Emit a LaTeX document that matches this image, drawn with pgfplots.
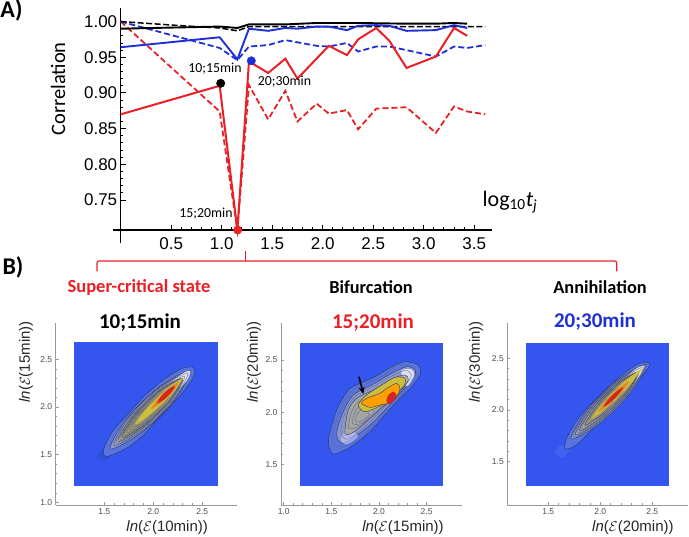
\documentclass[border=0pt]{standalone}
\usepackage{fontspec}
\setmainfont{Liberation Sans}
\newfontfamily\cb{Carlito}
\usepackage{pgfplots}
\pgfplotsset{compat=1.18}
\usetikzlibrary{arrows.meta}

\definecolor{myred}{HTML}{EA2027}
\definecolor{myblue}{HTML}{1E2FD8}
\definecolor{heatblue}{HTML}{3456EE}
\definecolor{ctline}{HTML}{24305E}
\definecolor{axgray}{HTML}{999999}
\definecolor{h1}{HTML}{5872DE}
\definecolor{h2}{HTML}{8A96CC}
\definecolor{h3}{HTML}{A2A5BA}
\definecolor{h4}{HTML}{A8A79E}
\definecolor{h5}{HTML}{9C9664}
\definecolor{h6}{HTML}{CDBE3C}
\definecolor{h7}{HTML}{E28A26}
\definecolor{h8}{HTML}{D4261C}

\pgfplotsset{
  mainstyle/.style={
    scale only axis, clip=false,
    axis lines=left,
    axis line style={-, line width=1.5pt},
    tick style={black, line width=.9pt},
    tick align=inside,
    major tick length=5pt, minor tick length=2.5pt,
    minor tick num=4,
    /pgf/number format/assume math mode=true,
    tick label style={font=\fontsize{17}{19}\selectfont},
  },
  panel/.style={
    scale only axis, clip=false,
    axis lines=left,
    axis line style={-, axgray, line width=.8pt},
    tick style={axgray, line width=.5pt},
    major tick length=3pt, minor tick length=1.5pt,
    minor tick num=4, tick align=inside,
    /pgf/number format/assume math mode=true,
    /pgf/number format/fixed, /pgf/number format/fixed zerofill, /pgf/number format/precision=1,
    tick label style={font=\fontsize{8.5}{10}\selectfont, text=black!70},
    label style={font=\fontsize{15}{17}\selectfont, text=black!85},
    width=181pt, height=182pt,
  },
  ct/.style={smooth cycle, draw=ctline, line width=.35pt, fill=#1},
  ln/.style={smooth cycle, draw=ctline!75!white, line width=.3pt},
  blob/.style={smooth cycle, draw=none, fill=#1},
}

\begin{document}
\begin{tikzpicture}
\path[use as bounding box] (0pt,0pt) rectangle (689pt,537pt);

% A) correlation panel
\begin{axis}[mainstyle,
  at={(120.7pt,307pt)}, anchor=south west,
  width=371pt, height=222pt,
  xmin=0, xmax=3.673, ymin=0.708, ymax=1.019,
  xtick={0.5,1.0,1.5,2.0,2.5,3.0,3.5},
  ytick={0.75,0.80,0.85,0.90,0.95,1.00},
  xticklabel style={yshift=-4pt, /pgf/number format/fixed, /pgf/number format/fixed zerofill, /pgf/number format/precision=1},
  yticklabel style={/pgf/number format/fixed, /pgf/number format/fixed zerofill, /pgf/number format/precision=2},
]
% red dashed
\addplot[myred, line width=1.8pt, dash pattern=on 6pt off 3pt] coordinates {
 (0,1.000) (0.98,0.874) (1.155,0.708) (1.27,0.911) (1.46,0.863) (1.63,0.903) (1.75,0.860)
 (1.94,0.885) (2.06,0.871) (2.24,0.876) (2.35,0.849) (2.53,0.878) (2.83,0.880) (3.12,0.844)
 (3.30,0.881) (3.43,0.874) (3.61,0.870)};
% blue dashed
\addplot[myblue, line width=1.8pt, dash pattern=on 6pt off 3pt] coordinates {
 (0,1.000) (0.98,0.963) (1.155,0.946) (1.27,0.965) (1.46,0.967) (1.63,0.974) (1.94,0.966)
 (2.06,0.965) (2.24,0.970) (2.35,0.958) (2.53,0.965) (2.66,0.965) (2.83,0.960) (3.12,0.951)
 (3.30,0.965) (3.43,0.963) (3.61,0.967)};
% black dashed
\addplot[black, line width=1.5pt, dash pattern=on 6pt off 2.5pt] coordinates {
 (0,1.000) (0.62,0.994) (0.98,0.991) (1.155,0.987) (1.27,0.993) (2.1,0.993) (3.61,0.993)};
% black solid
\addplot[black, line width=1.9pt] coordinates {
 (0,0.990) (0.98,0.993) (1.155,0.991) (1.27,0.996) (1.63,0.996) (1.94,0.998) (2.35,0.998)
 (2.83,0.997) (3.12,0.997) (3.30,0.998) (3.43,0.997)};
% blue solid
\addplot[myblue, line width=1.9pt] coordinates {
 (0,0.964) (0.98,0.978) (1.155,0.947) (1.27,0.990) (1.46,0.987) (1.63,0.991) (1.75,0.990)
 (1.94,0.993) (2.06,0.993) (2.24,0.988) (2.35,0.994) (2.53,0.995) (2.66,0.994) (2.83,0.987)
 (3.12,0.988) (3.30,0.995) (3.43,0.991)};
% red solid
\addplot[myred, line width=2pt] coordinates {
 (0,0.870) (0.98,0.910) (1.155,0.708) (1.27,0.944) (1.46,0.928) (1.63,0.948) (1.75,0.920)
 (2.06,0.966) (2.24,0.953) (2.35,0.975) (2.53,0.991) (2.66,0.973) (2.83,0.935) (3.12,0.951)
 (3.30,0.991) (3.43,0.980)};
\addplot[only marks, mark=*, mark size=4.2pt, black, mark options={fill=black}] coordinates {(0.99,0.9135)};
\addplot[only marks, mark=*, mark size=4.2pt, myblue, mark options={fill=myblue}] coordinates {(1.293,0.945)};
\addplot[only marks, mark=*, mark size=4.2pt, myred, mark options={fill=myred}] coordinates {(1.158,0.708)};
\end{axis}

% B1) 10;15min
\begin{axis}[panel,
  at={(55.7pt,32pt)}, anchor=south west,
  xmin=1.004, xmax=2.851, ymin=0.972, ymax=2.88,
  xtick={1.5,2.0,2.5}, ytick={1.0,1.5,2.0,2.5},
  xlabel={\textit{ln}($\mathcal{E}$(10min))}, ylabel={\textit{ln}($\mathcal{E}$(15min))},
  x label style={at={(axis description cs:0.616,-0.126)}, anchor=center},
  y label style={at={(axis description cs:-0.164,0.786)}, anchor=center},
]
\addplot[fill=heatblue, draw=none] coordinates {(1.19,1.171) (2.657,1.171) (2.657,2.678) (1.19,2.678)} -- cycle;
\addplot[blob=heatblue!75!black, fill opacity=.3] coordinates {(1.42,1.46) (1.48,1.56) (1.56,1.52) (1.52,1.44)};
\addplot[ct=h1] coordinates {(1.490,1.509) (1.507,1.597) (1.592,1.754) (1.745,1.929) (1.915,2.121) (2.119,2.296) (2.289,2.401) (2.391,2.418) (2.425,2.376) (2.391,2.278) (2.289,2.138) (2.153,1.981) (2.017,1.841) (1.898,1.701) (1.745,1.579) (1.609,1.509) (1.524,1.481)};
\addplot[ct=h2] coordinates {(1.56,1.56) (1.73,1.88) (2.06,2.21) (2.38,2.38) (2.21,2.06) (1.88,1.73)};
\addplot[ct=h3] coordinates {(1.60,1.60) (1.76,1.90) (2.06,2.20) (2.36,2.36) (2.20,2.06) (1.90,1.76)};
\addplot[blob=white, fill opacity=.7] coordinates {(2.20,2.27) (2.33,2.37) (2.38,2.37) (2.34,2.27) (2.24,2.19)};
\addplot[ct=h4, fill opacity=.8] coordinates {(1.64,1.64) (1.79,1.905) (2.065,2.18) (2.30,2.30) (2.18,2.065) (1.905,1.79)};
\addplot[ln] coordinates {(1.62,1.62) (1.776,1.902) (2.068,2.194) (2.35,2.35) (2.194,2.068) (1.902,1.776)};
\addplot[ct=h5, fill opacity=.85] coordinates {(1.68,1.68) (1.816,1.916) (2.064,2.164) (2.29,2.29) (2.164,2.064) (1.916,1.816)};
\addplot[ln] coordinates {(1.66,1.66) (1.804,1.912) (2.068,2.176) (2.32,2.32) (2.176,2.068) (1.912,1.804)};
\addplot[ln] coordinates {(1.70,1.70) (1.831,1.923) (2.067,2.159) (2.29,2.29) (2.159,2.067) (1.923,1.831)};
\addplot[ln] coordinates {(1.73,1.73) (1.831,1.911) (2.019,2.099) (2.20,2.20) (2.099,2.019) (1.911,1.831)};
\addplot[ln] coordinates {(1.76,1.76) (1.834,1.902) (1.978,2.046) (2.12,2.12) (2.046,1.978) (1.902,1.834)};
\addplot[ln] coordinates {(1.79,1.79) (1.84,1.896) (1.944,2.00) (2.05,2.05) (2.00,1.944) (1.896,1.84)};
\addplot[blob=h6] coordinates {(1.82,1.82) (1.939,1.989) (2.131,2.181) (2.30,2.30) (2.181,2.131) (1.989,1.939)};
\addplot[blob=h7] coordinates {(1.98,1.98) (2.046,2.082) (2.158,2.194) (2.26,2.26) (2.194,2.158) (2.082,2.046)};
\addplot[blob=h8] coordinates {(2.04,2.04) (2.078,2.11) (2.15,2.182) (2.22,2.22) (2.182,2.15) (2.11,2.078)};
\end{axis}

% B2) 15;20min
\begin{axis}[panel,
  at={(281pt,32pt)}, anchor=south west, width=181.3pt,
  xmin=0.972, xmax=2.874, ymin=1.11, ymax=2.855,
  xtick={1.0,1.5,2.0,2.5}, ytick={1.5,2.0,2.5},
  xlabel={\textit{ln}($\mathcal{E}$(15min))}, ylabel={\textit{ln}($\mathcal{E}$(20min))},
  x label style={at={(axis description cs:0.673,-0.126)}, anchor=center},
  y label style={at={(axis description cs:-0.149,0.786)}, anchor=center},
]
\addplot[fill=heatblue, draw=none] coordinates {(1.171,1.292) (2.674,1.292) (2.674,2.666) (1.171,2.666)} -- cycle;
\addplot[ct=h1] coordinates {(1.475,1.765) (1.556,2.021) (1.678,2.212) (1.801,2.276) (1.958,2.340) (2.133,2.436) (2.273,2.484) (2.413,2.452) (2.430,2.356) (2.343,2.244) (2.203,2.117) (2.063,1.973) (1.923,1.829) (1.783,1.717) (1.643,1.637) (1.521,1.599) (1.475,1.669)};
\addplot[ln] coordinates {(1.51,1.78) (1.59,2.01) (1.70,2.19) (1.86,2.27) (2.04,2.35) (2.20,2.46) (2.34,2.43) (2.40,2.34) (2.28,2.21) (2.13,2.05) (1.97,1.90) (1.80,1.74) (1.63,1.67) (1.53,1.68)};
\addplot[ct=h2] coordinates {(1.556,1.797) (1.626,2.005) (1.731,2.165) (1.923,2.260) (2.133,2.372) (2.290,2.436) (2.378,2.404) (2.360,2.324) (2.220,2.180) (2.063,2.021) (1.906,1.877) (1.748,1.765) (1.608,1.701)};
\addplot[blob=blue!20!white, fill opacity=.6] coordinates {(1.60,1.75) (1.68,1.83) (1.78,1.77) (1.66,1.69)};
\addplot[blob=white, fill opacity=.7] coordinates {(2.24,2.40) (2.34,2.41) (2.37,2.35) (2.30,2.25) (2.25,2.30)};
\addplot[ln] coordinates {(1.60,1.81) (1.65,2.01) (1.75,2.15) (1.93,2.24) (2.14,2.35) (2.28,2.40) (2.34,2.35) (2.26,2.24) (2.10,2.09) (1.94,1.94) (1.78,1.80) (1.66,1.74)};
\addplot[ct=h4, fill opacity=.85] coordinates {(1.643,1.829) (1.678,2.021) (1.766,2.133) (1.941,2.212) (2.150,2.324) (2.273,2.356) (2.308,2.308) (2.220,2.196) (2.063,2.069) (1.906,1.941) (1.766,1.829) (1.661,1.781)};
\addplot[ln] coordinates {(1.68,1.85) (1.72,2.02) (1.80,2.11) (1.94,2.18) (2.10,2.25) (2.20,2.28) (2.22,2.22) (2.08,2.09) (1.92,1.97) (1.78,1.86)};
\addplot[ln] coordinates {(1.72,1.89) (1.76,2.02) (1.84,2.08) (1.95,2.00) (1.84,1.90)};
\addplot[ln] coordinates {(1.75,1.91) (1.78,1.99) (1.83,2.03) (1.90,1.98) (1.83,1.92)};
\addplot[ct=h6] coordinates {(1.783,2.069) (1.870,2.165) (2.028,2.260) (2.168,2.334) (2.273,2.324) (2.266,2.260) (2.150,2.149) (2.010,2.059) (1.853,2.005)};
\addplot[ct=orange!75!yellow] coordinates {(1.818,2.085) (1.870,2.133) (2.010,2.180) (2.080,2.228) (2.185,2.276) (2.220,2.228) (2.185,2.149) (2.098,2.085) (2.010,2.069) (1.906,2.046)};
\addplot[blob=h8] coordinates {(2.080,2.101) (2.098,2.165) (2.150,2.196) (2.185,2.165) (2.161,2.117) (2.115,2.078)};
\draw[-{Stealth[length=7pt,width=6pt]}, black, line width=1.6pt] (axis cs:1.790,2.340) -- (axis cs:1.836,2.174);
\end{axis}

% B3) 20;30min
\begin{axis}[panel,
  at={(507.3pt,32pt)}, anchor=south west,
  xmin=1.106, xmax=2.846, ymin=1.081, ymax=2.841,
  xtick={1.5,2.0,2.5}, ytick={1.5,2.0,2.5},
  xlabel={\textit{ln}($\mathcal{E}$(20min))}, ylabel={\textit{ln}($\mathcal{E}$(30min))},
  x label style={at={(axis description cs:0.694,-0.126)}, anchor=center},
  y label style={at={(axis description cs:-0.173,0.786)}, anchor=center},
]
\addplot[fill=heatblue, draw=none] coordinates {(1.286,1.268) (2.663,1.268) (2.663,2.651) (1.286,2.651)} -- cycle;
\addplot[blob=heatblue!80!white, fill opacity=.35] coordinates {(1.56,1.58) (1.62,1.66) (1.70,1.62) (1.64,1.54)};
\addplot[ct=h1] coordinates {(1.660,1.628) (1.676,1.725) (1.789,1.919) (1.981,2.128) (2.205,2.338) (2.365,2.445) (2.462,2.457) (2.468,2.419) (2.397,2.322) (2.237,2.161) (2.077,1.967) (1.917,1.806) (1.789,1.677) (1.708,1.628)};
\addplot[ct=h2] coordinates {(1.72,1.72) (1.873,1.999) (2.161,2.287) (2.44,2.44) (2.287,2.161) (1.999,1.873)};
\addplot[ln] coordinates {(1.74,1.74) (1.889,2.005) (2.165,2.281) (2.43,2.43) (2.281,2.165) (2.005,1.889)};
\addplot[ct=h3] coordinates {(1.76,1.76) (1.904,2.012) (2.168,2.276) (2.42,2.42) (2.276,2.168) (2.012,1.904)};
\addplot[blob=white, fill opacity=.75] coordinates {(2.26,2.32) (2.36,2.41) (2.42,2.42) (2.38,2.33) (2.30,2.26)};
\addplot[ln] coordinates {(1.78,1.78) (1.919,2.019) (2.171,2.271) (2.41,2.41) (2.271,2.171) (2.019,1.919)};
\addplot[ct=h4, fill opacity=.8] coordinates {(1.80,1.80) (1.935,2.025) (2.175,2.265) (2.37,2.37) (2.265,2.175) (2.025,1.935)};
\addplot[ln] coordinates {(1.82,1.82) (1.94,2.024) (2.156,2.24) (2.36,2.36) (2.24,2.156) (2.024,1.94)};
\addplot[ct=h5, fill opacity=.85] coordinates {(1.85,1.85) (1.976,2.048) (2.192,2.264) (2.36,2.36) (2.264,2.192) (2.048,1.976)};
\addplot[ln] coordinates {(1.86,1.86) (1.943,2.011) (2.099,2.167) (2.25,2.25) (2.167,2.099) (2.011,1.943)};
\addplot[ln] coordinates {(1.89,1.89) (1.942,1.994) (2.046,2.098) (2.15,2.15) (2.098,2.046) (1.994,1.942)};
\addplot[blob=h6] coordinates {(1.92,1.92) (2.044,2.084) (2.236,2.276) (2.40,2.40) (2.276,2.236) (2.084,2.044)};
\addplot[blob=h7] coordinates {(1.98,1.98) (2.054,2.086) (2.174,2.206) (2.28,2.28) (2.206,2.174) (2.086,2.054)};
\addplot[blob=h8] coordinates {(2.03,2.03) (2.075,2.099) (2.151,2.175) (2.22,2.22) (2.175,2.151) (2.099,2.075)};
\end{axis}

% annotations in page coordinates (y measured from the bottom)
\begin{scope}[x=1pt,y=1pt]
\draw[black, line width=1.5pt] (120.7,307) -- (120.7,294);
\draw[black, line width=1.5pt] (113,307) -- (120.7,307);
\draw[myred, line width=1.2pt, rounded corners=2pt] (97,265.5) -- (97,276) -- (616.7,276) -- (616.7,265.5);
\draw[myred, line width=1.2pt] (245.7,276) -- (245.7,286);

\begin{scope}[every node/.style={inner sep=0pt, font=\cb}]
\node[font=\cb\bfseries\fontsize{24}{26}\selectfont] at (11.5,527) {A)};
\node[font=\cb\bfseries\fontsize{24}{26}\selectfont] at (13,270) {B)};
\node[rotate=90, font=\cb\fontsize{20.5}{22}\selectfont] at (58,448) {Correlation};
\node[font=\cb\fontsize{22}{24}\selectfont] at (510,335) {log\textsubscript{10}\textit{t}\textsubscript{\textit{j}}};
\node[font=\cb\fontsize{13.8}{15}\selectfont] at (215,468.5) {10;15min};
\node[font=\cb\fontsize{13.8}{15}\selectfont] at (284.5,455.3) {20;30min};
\node[font=\cb\fontsize{13.8}{15}\selectfont] at (206,323) {15;20min};
\node[text=myred, font=\cb\bfseries\fontsize{18.5}{20}\selectfont] at (139,250) {Super-critical state};
\node[font=\cb\bfseries\fontsize{18.3}{20}\selectfont] at (371,250) {Bifurcation};
\node[font=\cb\bfseries\fontsize{18.3}{20}\selectfont] at (600,250) {Annihilation};
\node[font=\cb\bfseries\fontsize{21}{23}\selectfont] at (140,214) {10;15min};
\node[text=myred, font=\cb\bfseries\fontsize{21}{23}\selectfont] at (373,214) {15;20min};
\node[text=myblue, font=\cb\bfseries\fontsize{21}{23}\selectfont] at (595,215) {20;30min};
\end{scope}
\end{scope}
\end{tikzpicture}
\end{document}
